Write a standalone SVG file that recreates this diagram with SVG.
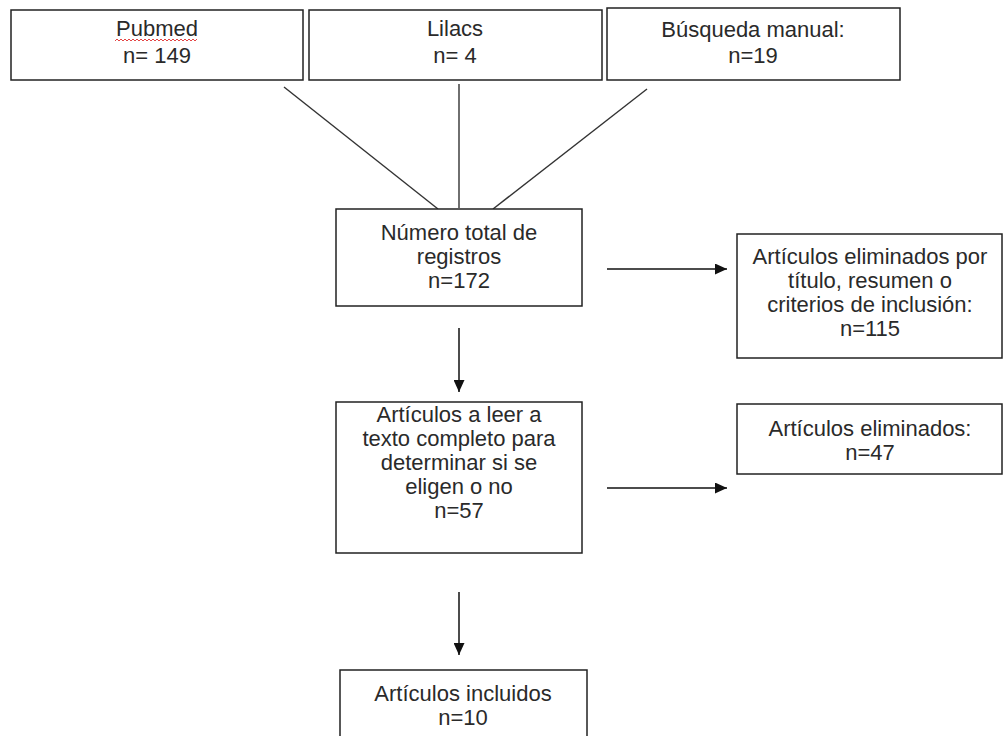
<svg xmlns="http://www.w3.org/2000/svg" width="1003" height="736" viewBox="0 0 1003 736">
  <defs>
    <marker id="arrow" markerUnits="userSpaceOnUse" markerWidth="12" markerHeight="11" refX="12" refY="5.5" orient="auto">
      <path d="M0,0 L12,5.5 L0,11 z" fill="#111"/>
    </marker>
    <style>
      .box { fill: #fff; stroke: #222; stroke-width: 1.5; }
      .lbl { font-family: "Liberation Sans", Arial, sans-serif; font-size: 22px; fill: #2a2a2a; text-anchor: middle; }
      .conn { stroke: #333; stroke-width: 1.4; fill: none; }
      .arr { stroke: #111; stroke-width: 1.5; fill: none; marker-end: url(#arrow); }
    </style>
  </defs>
  <rect width="1003" height="736" fill="#fff"/>

  <g id="connectors">
    <line class="conn" x1="284" y1="87" x2="438" y2="209"/>
    <line class="conn" x1="459" y1="84" x2="459" y2="208"/>
    <line class="conn" x1="647" y1="89" x2="493" y2="209"/>
    <line class="arr" x1="607" y1="269" x2="727" y2="269"/>
    <line class="arr" x1="459" y1="328" x2="459" y2="392"/>
    <line class="arr" x1="607" y1="488" x2="727" y2="488"/>
    <line class="arr" x1="459" y1="592" x2="459" y2="655"/>
  </g>

  <g id="node-pubmed">
    <rect class="box" x="11" y="10" width="292" height="70"/>
    <text class="lbl" x="157" y="36">Pubmed</text>
    <path d="M115,41 l2,-2 l2,2 l2,-2 l2,2 l2,-2 l2,2 l2,-2 l2,2 l2,-2 l2,2 l2,-2 l2,2 l2,-2 l2,2 l2,-2 l2,2 l2,-2 l2,2 l2,-2 l2,2 l2,-2 l2,2 l2,-2 l2,2 l2,-2 l2,2 l2,-2 l2,2 l2,-2 l2,2 l2,-2 l2,2 l2,-2 l2,2 l2,-2 l2,2 l2,-2 l2,2 l2,-2 l2,2 l2,-2" fill="none" stroke="#e03030" stroke-width="0.9"/>
    <text class="lbl" x="157" y="63">n= 149</text>
  </g>

  <g id="node-lilacs">
    <rect class="box" x="309" y="10" width="293" height="70"/>
    <text class="lbl" x="455" y="36">Lilacs</text>
    <text class="lbl" x="455" y="63">n= 4</text>
  </g>

  <g id="node-manual">
    <rect class="box" x="607" y="8" width="293" height="72"/>
    <text class="lbl" x="753" y="37">Búsqueda manual:</text>
    <text class="lbl" x="753" y="63">n=19</text>
  </g>

  <g id="node-total">
    <rect class="box" x="336" y="209" width="246" height="97"/>
    <text class="lbl" x="459" y="239.5">Número total de</text>
    <text class="lbl" x="459" y="263.5">registros</text>
    <text class="lbl" x="459" y="287.5">n=172</text>
  </g>

  <g id="node-eliminados1">
    <rect class="box" x="737" y="234" width="265" height="124"/>
    <text class="lbl" x="870" y="263.5">Artículos eliminados por</text>
    <text class="lbl" x="870" y="287.5">título, resumen o</text>
    <text class="lbl" x="870" y="311.5">criterios de inclusión:</text>
    <text class="lbl" x="870" y="335.5">n=115</text>
  </g>

  <g id="node-leer">
    <rect class="box" x="336" y="402" width="246" height="151"/>
    <text class="lbl" x="459" y="422">Artículos a leer a</text>
    <text class="lbl" x="459" y="446">texto completo para</text>
    <text class="lbl" x="459" y="470">determinar si se</text>
    <text class="lbl" x="459" y="494">eligen o no</text>
    <text class="lbl" x="459" y="518">n=57</text>
  </g>

  <g id="node-eliminados2">
    <rect class="box" x="737" y="404" width="265" height="70"/>
    <text class="lbl" x="870" y="435.5">Artículos eliminados:</text>
    <text class="lbl" x="870" y="459.5">n=47</text>
  </g>

  <g id="node-incluidos">
    <rect class="box" x="340" y="670" width="247" height="80"/>
    <text class="lbl" x="463" y="701">Artículos incluidos</text>
    <text class="lbl" x="463" y="725">n=10</text>
  </g>
</svg>
